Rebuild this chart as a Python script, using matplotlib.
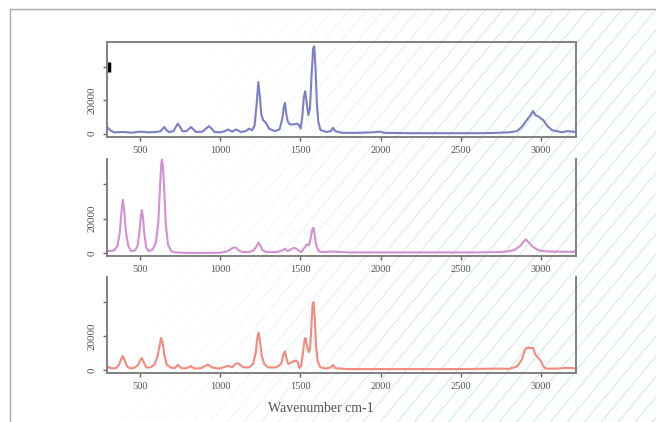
import numpy as np
import matplotlib.pyplot as plt
from matplotlib.lines import Line2D

# spectra (wavenumber cm-1, intensity)
wn_a = [300, 315, 340, 400, 450, 500, 550, 600, 630, 642, 652, 662, 680, 710, 727, 737, 747, 765,
        790, 808, 818, 828, 850, 890, 918, 930, 942, 965, 1000, 1030, 1050, 1075, 1100, 1130, 1160,
        1180, 1200, 1215, 1228, 1238, 1248, 1256, 1267, 1285, 1305, 1340, 1370, 1388, 1397, 1404,
        1412, 1422, 1435, 1460, 1480, 1492, 1502, 1512, 1522, 1530, 1540, 1550, 1560, 1570, 1580,
        1587, 1595, 1603, 1612, 1625, 1660, 1690, 1703, 1718, 1760, 1850, 1950, 2000, 2020, 2200,
        2400, 2600, 2700, 2800, 2850, 2880, 2910, 2935, 2950, 2965, 2980, 3000, 3015, 3040, 3070,
        3100, 3130, 3160, 3200, 3215]
int_a = [3500, 2000, 800, 1000, 600, 1200, 800, 1000, 1500, 3000, 4000, 2500, 1000, 1500, 4500,
         6000, 4500, 1500, 1500, 3000, 4000, 3000, 1000, 1200, 3500, 4500, 3500, 1000, 800, 1500,
         2500, 1200, 2500, 1000, 1500, 3000, 2000, 5000, 18000, 30700, 22000, 12000, 8200, 6500,
         3000, 1500, 2500, 9000, 16000, 18400, 12000, 7000, 5500, 5500, 6000, 5000, 3000, 10000,
         22000, 25300, 18000, 11000, 15000, 35000, 51000, 52000, 38000, 18000, 7000, 2300, 1000,
         1500, 3500, 1500, 500, 500, 800, 1200, 500, 300, 300, 300, 400, 800, 1500, 4000, 8000,
         11000, 13500, 11000, 10500, 9000, 8000, 4500, 2000, 1500, 800, 1500, 1200, 1000]

wn_b = [300, 340, 360, 375, 386, 394, 402, 413, 428, 445, 470, 485, 497, 506, 512, 519, 528, 540,
        555, 580, 600, 615, 625, 633, 638, 644, 652, 662, 675, 695, 720, 800, 900, 1000, 1050,
        1070, 1085, 1100, 1115, 1140, 1180, 1210, 1228, 1240, 1250, 1265, 1290, 1350, 1390, 1405,
        1420, 1440, 1460, 1475, 1495, 1505, 1525, 1541, 1555, 1565, 1575, 1582, 1590, 1600, 1615,
        1640, 1700, 1800, 2000, 2300, 2600, 2750, 2830, 2870, 2890, 2905, 2925, 2950, 2975, 3000,
        3050, 3150, 3215]
int_b = [1000, 1500, 4000, 12000, 25000, 31000, 25000, 12000, 4000, 1000, 1500, 4000, 12000, 21000,
         25000, 21000, 11000, 3000, 1000, 2000, 6000, 18000, 38000, 52000, 54700, 50000, 36000,
         16000, 5000, 1000, 300, 0, 0, 100, 1000, 2500, 3200, 3000, 1500, 500, 500, 1500, 4000,
         6000, 4500, 1500, 500, 500, 1500, 2500, 1000, 2000, 3000, 2500, 1000, 500, 3000, 5000,
         4500, 9000, 14000, 14700, 10000, 4000, 1000, 500, 800, 300, 300, 300, 300, 500, 1500, 4000,
         6500, 8000, 6000, 3500, 2000, 1200, 800, 700, 700]

wn_c = [300, 320, 350, 370, 384, 394, 404, 420, 440, 465, 490, 503, 512, 522, 540, 565, 590, 610,
        622, 632, 642, 652, 668, 690, 715, 737, 760, 790, 818, 840, 880, 925, 950, 990, 1020, 1050,
        1075, 1095, 1110, 1125, 1145, 1180, 1205, 1222, 1232, 1240, 1250, 1260, 1275, 1300, 1350,
        1380, 1395, 1404, 1413, 1425, 1445, 1466, 1482, 1495, 1505, 1515, 1525, 1532, 1542, 1552,
        1560, 1568, 1576, 1582, 1590, 1598, 1608, 1625, 1660, 1690, 1703, 1720, 1800, 1950, 2200,
        2500, 2750, 2800, 2850, 2880, 2900, 2912, 2950, 2965, 2980, 3000, 3015, 3030, 3100, 3150,
        3215]
int_c = [2000, 1000, 1000, 3000, 6500, 8200, 6000, 2000, 1000, 1200, 3000, 6000, 7000, 5000, 1500,
         1500, 3000, 8000, 14000, 18800, 16000, 9000, 3000, 1500, 1000, 3000, 1000, 1000, 2200, 800,
         1000, 3200, 1500, 800, 1500, 2500, 1500, 3500, 4000, 3000, 1500, 1500, 3500, 10000, 19000,
         22000, 16000, 8000, 3500, 1500, 1500, 3500, 9000, 11000, 7000, 3500, 4500, 5500, 5000,
         1000, 2500, 9000, 17000, 18800, 14000, 10500, 12000, 24000, 38000, 40000, 30000, 14000,
         5000, 1500, 800, 1500, 3000, 1000, 500, 500, 500, 500, 800, 600, 2000, 6000, 12000, 13000,
         13000, 9000, 7500, 5000, 2000, 800, 800, 1200, 1000]

spectra = [(wn_a, int_a), (wn_b, int_b), (wn_c, int_c)]
colors = ['#7e7ec8', '#d490d4', '#f48a7c']
x_ticks = [500, 1000, 1500, 2000, 2500, 3000]
y_ticks = [0, 20000, 40000]
y_labels = ['0', '20000', '']

W, H = 656, 422
fig = plt.figure(figsize=[W / 100, H / 100], dpi=100)

# faded diagonal hatching in the background, inside the outer frame
yy, xx = np.mgrid[0:H, 0:W].astype(float)
u = xx + yy / 1.2
period = 17.0
dist = np.abs(((u + period / 2) % period) - period / 2) * 0.77
cover = np.clip(1.0 - dist, 0, 1)
ramp = np.clip((xx + 0.25 * yy - 200) / 320, 0, 1) ** 1.2
a = cover * ramp
a[(xx < 10) | (yy < 9)] = 0
teal = np.array([200, 233, 233]) / 255.0
img = np.ones((H, W, 3)) * (1 - a[..., None]) + teal * a[..., None]
fig.figimage(img, xo=0, yo=0, origin='upper', zorder=-10)

# outer frame (left and top edges)
fig.add_artist(Line2D([9.5 / W, 9.5 / W], [0, 1 - 8.5 / H], transform=fig.transFigure, color='#aaaaaa', lw=1))
fig.add_artist(Line2D([9.5 / W, 1], [1 - 8.5 / H, 1 - 8.5 / H], transform=fig.transFigure, color='#aaaaaa', lw=1))

# panel boxes in pixels: (top, bottom)
boxes = [(41.7, 136.7), (159, 256), (277, 373)]
left, right = 107, 576

for i, (top, bottom) in enumerate(boxes):
	ax = fig.add_axes([left / W, 1 - bottom / H, (right - left) / W, (bottom - top) / H])
	ax.set_facecolor('none')
	wn, val = spectra[i]
	ax.plot(wn, val, color=colors[i], lw=1.5)
	ax.set_xlim(295, 3218)
	ax.set_ylim(-1800, 54800)
	ax.set_xticks(x_ticks)
	ax.set_xticklabels([str(t) for t in x_ticks])
	ax.set_yticks(y_ticks)
	ax.set_yticklabels(y_labels)
	for side in ['left', 'right', 'bottom', 'top']:
		ax.spines[side].set_color('#808080')
		ax.spines[side].set_linewidth(1.4)
	if i > 0:
		ax.spines['top'].set_visible(False)
	ax.tick_params(axis='both', direction='out', length=3, width=1, color='#666666',
		labelcolor='#555555')
	ax.tick_params(axis='x', pad=3.5, labelsize=7.5)
	ax.tick_params(axis='y', pad=4.5, labelrotation=90, labelsize=8)
	for lab in ax.get_yticklabels():
		lab.set_verticalalignment('center')
	for lab in ax.get_xticklabels() + ax.get_yticklabels():
		lab.set_family('Liberation Serif')
	if i == 0:
		# small dark mark on the upper axis
		ax.plot([0.004, 0.004], [0.68, 0.79], transform=ax.transAxes, color='black', lw=2.5, solid_capstyle='butt')

fig.text(321 / W, 1 - 408 / H, 'Wavenumber cm-1', ha='center', va='center', fontsize=10,
	color='#555555', family='Liberation Serif')

plt.savefig('out.png', dpi=100)
plt.close()
